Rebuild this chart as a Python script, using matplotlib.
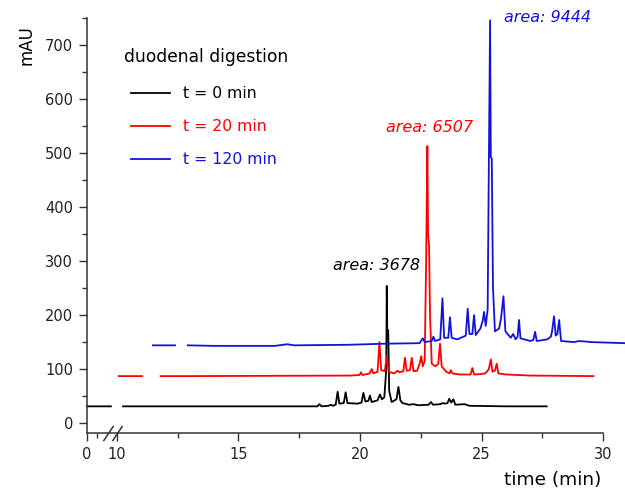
import numpy as np
import matplotlib.pyplot as plt
from matplotlib.transforms import blended_transform_factory

# chromatogram traces (time in min, absorbance in mAU), nan = gap
t0 = [0, 8, np.nan, 10.25, 14.0, 18.25, 18.33, 18.42, 18.7, 18.8, 18.88, 19.0, 19.08, 19.15,
      19.33, 19.41, 19.48, 19.9, 20.06, 20.14, 20.22, 20.34, 20.41, 20.48, 20.72, 20.82, 20.9,
      21.0, 21.08, 21.1, 21.12, 21.16, 21.2, 21.3, 21.5, 21.58, 21.66, 21.75, 21.85, 22.0, 22.2,
      22.4, 22.82, 22.92, 23.0, 23.3, 23.4, 23.5, 23.6, 23.67, 23.75, 23.84, 23.92, 24.3, 24.5,
      26.0, 27.68]
a0 = [31, 31, np.nan, 31, 31, 31, 35, 31, 32, 34, 32, 34, 58, 36,
      37, 57, 37, 36, 38, 56, 40, 41, 51, 39, 42, 53, 44,
      48, 100, 254, 170, 172, 60, 39, 44, 67, 42, 37, 36, 34, 35,
      33, 34, 39, 34, 35, 37, 36, 37, 45, 38, 44, 34, 35, 32,
      31, 31]

t20 = [10.08, 11.03, np.nan, 11.8, 13.0, 19.6, 19.98, 20.04, 20.1, 20.4, 20.48, 20.55, 20.72,
       20.8, 20.87, 21.02, 21.1, 21.18, 21.4, 21.55, 21.62, 21.78, 21.85, 21.92, 22.05, 22.13,
       22.2, 22.35, 22.45, 22.52, 22.58, 22.66, 22.72, 22.77, 22.8, 22.84, 22.88, 22.95, 23.1,
       23.22, 23.29, 23.36, 23.55, 23.68, 23.73, 23.8, 24.1, 24.55, 24.62, 24.69, 25.0, 25.15,
       25.3, 25.38, 25.45, 25.55, 25.62, 25.69, 26.0, 26.5, 27.0, 29.6]
a20 = [87, 87, np.nan, 87, 87, 88, 89, 94, 89, 92, 100, 92, 95,
       150, 98, 96, 124, 95, 92, 97, 94, 96, 121, 97, 98, 121,
       96, 97, 110, 124, 105, 115, 300, 513, 350, 330, 200, 110, 105,
       110, 147, 105, 95, 92, 98, 92, 90, 90, 102, 90, 91, 92,
       100, 118, 95, 97, 110, 92, 90, 89, 88, 87]

t120 = [11.48, 12.39, np.nan, 12.92, 14.0, 16.5, 17.0, 17.3, 19.5, 21.0, 22.45, 22.58, 22.66,
        22.95, 23.02, 23.08, 23.3, 23.39, 23.46, 23.63, 23.7, 23.77, 24.0, 24.35, 24.43, 24.5,
        24.62, 24.69, 24.76, 24.95, 25.05, 25.1, 25.17, 25.25, 25.3, 25.35, 25.38, 25.42, 25.47,
        25.55, 25.72, 25.8, 25.9, 25.98, 26.2, 26.3, 26.4, 26.48, 26.54, 26.6, 27.0, 27.13, 27.2,
        27.27, 27.7, 27.85, 27.9, 27.98, 28.05, 28.12, 28.19, 28.27, 28.8, 29.0, 29.3, 29.5, 30.9]
a120 = [144, 144, np.nan, 144, 143, 143, 146, 144, 145, 147, 148, 157, 150,
        152, 160, 152, 155, 231, 158, 158, 196, 158, 155, 162, 212, 165,
        165, 200, 163, 175, 190, 206, 180, 210, 480, 746, 493, 490, 250,
        170, 175, 194, 235, 170, 158, 165, 155, 160, 191, 157, 152, 154, 169,
        152, 155, 160, 170, 198, 162, 165, 191, 152, 150, 152, 151, 150, 148]

labels = ['t = 0 min', 't = 20 min', 't = 120 min']
colors = ['black', '#ff0000', '#1212dd']
areas = ['area: 3678', 'area: 6507', 'area: 9444']
area_pos = [(18.9, 291), (21.07, 548), (25.93, 752)]

# broken time axis: 0-10 squeezed
K = 0.1235
def fwd(x):
    x = np.asarray(x, dtype=float)
    return np.where(x < 10, x * K, 10 * K + (x - 10))
def inv(u):
    u = np.asarray(u, dtype=float)
    return np.where(u < 10 * K, u / K, u - 10 * K + 10)

fig = plt.figure(figsize=(6.25, 4.91), dpi=100)
ax = fig.add_axes([0.139, 0.118, 0.826, 0.845])
ax.set_xscale('function', functions=(fwd, inv))

for t, a, c, lab in zip([t0, t20, t120], [a0, a20, a120], colors, labels):
    ax.plot(t, a, color=c, lw=1.3, label=lab, clip_on=False)

for txt, (x, y), c in zip(areas, area_pos, colors):
    ax.text(x, y, txt, color=c, fontsize=11.5, style='italic', ha='left', va='center')

ax.set_xlim(0, 30)
ax.set_ylim(-18.5, 750)
ax.set_xticks([0, 10, 15, 20, 25, 30])
ax.set_xticks([3.3, 12.5, 17.5, 22.5, 27.5], minor=True)
ax.set_yticks(range(0, 701, 100))
ax.set_yticks(range(50, 751, 100), minor=True)
ax.tick_params(which='major', length=6, width=1, labelsize=10.5, pad=4, colors='#333333')
ax.tick_params(which='minor', length=3.5, width=1, colors='#333333')
ax.tick_params(labelcolor='#222222')
for s in ['top', 'right']:
    ax.spines[s].set_visible(False)
for s in ['left', 'bottom']:
    ax.spines[s].set_color('#333333')
    ax.spines[s].set_linewidth(1.1)

ax.set_ylabel('mAU', fontsize=12)
ax.yaxis.set_label_coords(-0.099, 0.935)
ax.set_xlabel('time (min)', fontsize=13.3, va='center')
ax.xaxis.set_label_coords(0.903, -0.113)

# axis break marks
tr = blended_transform_factory(ax.transData, ax.transAxes)
ax.plot([7.1, 10], [0, 0], transform=tr, ls='none', marker=[(-1, -1.5), (1, 1.5)],
        ms=11, mew=1.1, color='#333333', clip_on=False)

fig.text(124 / 625, 1 - 57 / 491, 'duodenal digestion', fontsize=12.3, va='center', ha='left')
ax.legend(loc='upper left', bbox_to_anchor=(131 / 625, 1 - 86 / 491), bbox_transform=fig.transFigure,
          frameon=False, fontsize=11.3, handlelength=2.5, handletextpad=0.8, labelspacing=1.15,
          borderpad=0, borderaxespad=0, labelcolor='linecolor')

plt.savefig('out.png', dpi=100)
